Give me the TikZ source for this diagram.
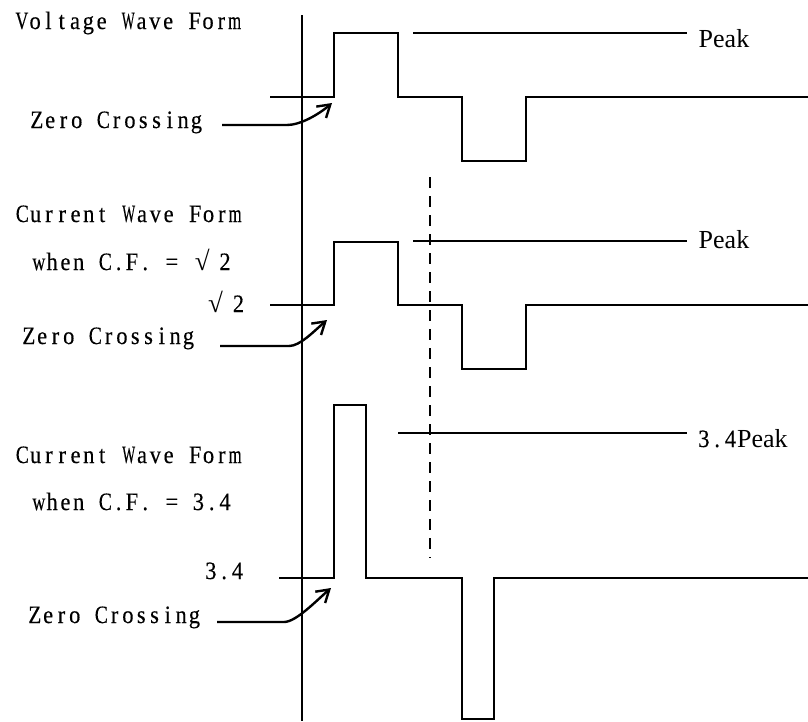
\documentclass[tikz,border=0pt]{standalone}
\usepackage{fontspec}
\usepackage{graphicx}
\setmainfont{Liberation Serif}
\newfontfamily\mingfont{Liberation Serif}[FakeStretch=0.9,FakeBold=0.3]
\newfontfamily\peakfam{Liberation Serif}
\usetikzlibrary{arrows.meta}
\newsavebox\monobox
\newcommand\monochar[1]{\sbox\monobox{#1}%
  \ifdim\wd\monobox>13pt\makebox[13.3pt][c]{\resizebox{13pt}{\height}{#1}}%
  \else\makebox[13.3pt][c]{#1}\fi}
\ExplSyntaxOn
\NewDocumentCommand\mono{m}{\str_map_inline:nn{#1}{\monochar{##1}}}
\ExplSyntaxOff
\newcommand\rad{\makebox[26.6pt][l]{\hspace{3pt}\peakfam\fontsize{27pt}{28pt}\selectfont √}}
\begin{document}
\begin{tikzpicture}[x=1pt,y=-1pt,line width=2.4pt,
  ming/.style={font=\mingfont\fontsize{25pt}{28pt}\selectfont,inner sep=0pt,anchor=base west},
  peakfont/.style={font=\peakfam\fontsize{26pt}{30pt}\selectfont,inner sep=0pt,anchor=base west},
  wave/.style={line width=2.4pt,line join=miter},
  axisline/.style={line width=2.4pt},
  levelline/.style={line width=2.4pt},
  guide/.style={line width=2.4pt,dash pattern=on 11pt off 8pt},
  pointer/.style={line width=2.4pt,-{Straight Barb[length=12pt,width=15pt]}}]
\useasboundingbox (0,0) rectangle (808,721);

% texts
\node[ming] (vtitle) at (14,29) {\mono{Voltage Wave Form}};
\node[ming] (zc1) at (29,128) {\mono{Zero Crossing}};
\node[ming] (ctitle1) at (14.5,222) {\mono{Current Wave Form}};
\node[ming] (cf1) at (31,270) {\mono{when C.F. = }\rad\mono{2}};
\node[ming] (sq2) at (204,312) {\rad\mono{2}};
\node[ming] (zc2) at (21,344) {\mono{Zero Crossing}};
\node[ming] (ctitle2) at (14.5,463) {\mono{Current Wave Form}};
\node[ming] (cf2) at (31,510) {\mono{when C.F. = 3.4}};
\node[ming] (v34) at (203,579) {\mono{3.4}};
\node[ming] (zc3) at (27,623) {\mono{Zero Crossing}};
\node[peakfont] (pk1) at (697.5,47) {Peak};
\node[peakfont] (pk2) at (697.5,248) {Peak};
\node[peakfont] (pk3) at (696,447) {{\mingfont\fontsize{25pt}{28pt}\selectfont\mono{3.4}}Peak};

% axis
\coordinate (axtop) at (302,15);
\coordinate (axbot) at (302,721);
\draw[axisline] (axtop) -- (axbot);

% voltage wave
\draw[wave] (270,97) -- (334,97) -- (334,33) -- (398,33) -- (398,97) -- (462,97)
  -- (462,161) -- (526,161) -- (526,97) -- (808,97);
% current wave sqrt 2
\draw[wave] (270,305) -- (334,305) -- (334,242) -- (398,242) -- (398,305) -- (462,305)
  -- (462,369) -- (526,369) -- (526,305) -- (808,305);
% current wave 3.4
\draw[wave] (279,578) -- (334,578) -- (334,405) -- (366,405) -- (366,578) -- (462,578)
  -- (462,719) -- (494,719) -- (494,578) -- (808,578);

% peak lines
\coordinate (pl1a) at (413,33);  \coordinate (pl1b) at (687,33);
\coordinate (pl2a) at (413,241); \coordinate (pl2b) at (687,241);
\coordinate (pl3a) at (398,433); \coordinate (pl3b) at (687,433);
\draw[levelline] (pl1a) -- (pl1b);
\draw[levelline] (pl2a) -- (pl2b);
\draw[levelline] (pl3a) -- (pl3b);

% dashed guide
\coordinate (dsh1) at (430,177);
\coordinate (dsh2) at (430,558);
\draw[guide] (dsh1) -- (dsh2);

% zero crossing pointers
\coordinate (zc1s) at (222,125); \coordinate (zc1t) at (332,103);
\coordinate (zc2s) at (220,346); \coordinate (zc2t) at (327,320);
\coordinate (zc3s) at (217,622); \coordinate (zc3t) at (331,588);
\draw[pointer] (zc1s) -- (287,125) .. controls (300,125) and (318,115) .. (zc1t);
\draw[pointer] (zc2s) -- (289,346) .. controls (300,346) and (313,332) .. (zc2t);
\draw[pointer] (zc3s) -- (284,622) .. controls (296,622) and (316,601) .. (zc3t);
\end{tikzpicture}
\end{document}
